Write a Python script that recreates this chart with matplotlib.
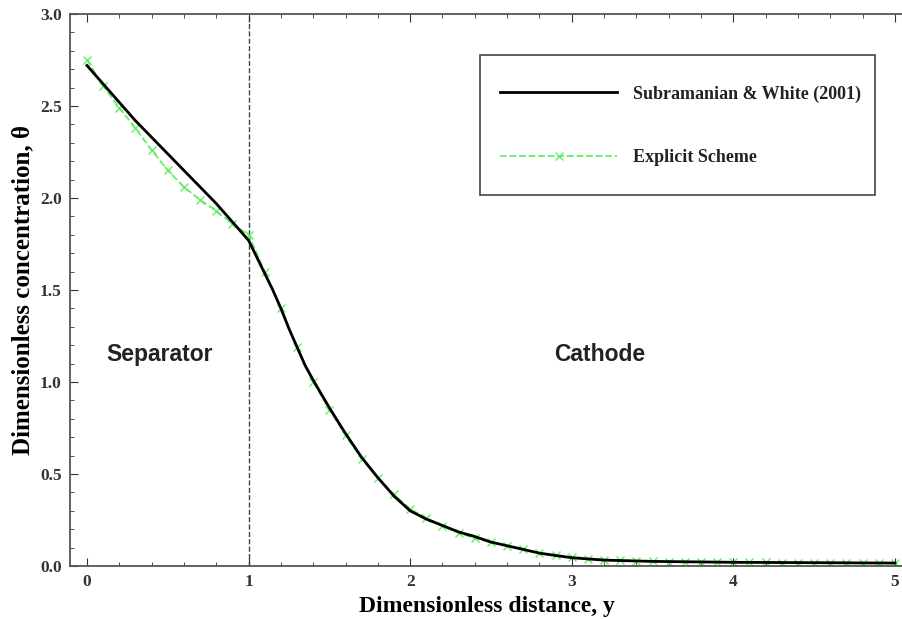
import numpy as np
import matplotlib.pyplot as plt
from matplotlib.ticker import MultipleLocator
from matplotlib.patches import Rectangle

# Subramanian & White (2001) solution
x_ref = [0.0, 0.1, 0.2, 0.3, 0.4, 0.5, 0.6, 0.7, 0.8, 0.9, 1.0,
         1.05, 1.1, 1.15, 1.2, 1.25, 1.3, 1.35, 1.4, 1.5, 1.6, 1.7, 1.8, 1.9, 2.0,
         2.1, 2.2, 2.3, 2.4, 2.5, 2.6, 2.7, 2.8, 2.9, 3.0, 3.2, 3.5, 4.0, 4.5, 5.0]
theta_ref = [2.72, 2.62, 2.52, 2.42, 2.33, 2.24, 2.15, 2.06, 1.97, 1.87, 1.77,
             1.68, 1.59, 1.50, 1.40, 1.29, 1.19, 1.09, 1.01, 0.86, 0.72, 0.59, 0.48, 0.38, 0.30,
             0.255, 0.22, 0.185, 0.16, 0.13, 0.11, 0.09, 0.07, 0.057, 0.045, 0.032, 0.025, 0.02, 0.018, 0.016]

# Explicit scheme
x_exp = [0.0, 0.1, 0.2, 0.3, 0.4, 0.5, 0.6, 0.7, 0.8, 0.9, 1.0,
         1.1, 1.2, 1.3, 1.4, 1.5, 1.6, 1.7, 1.8, 1.9, 2.0,
         2.1, 2.2, 2.3, 2.4, 2.5, 2.6, 2.7, 2.8, 2.9, 3.0,
         3.1, 3.2, 3.3, 3.4, 3.5, 3.6, 3.7, 3.8, 3.9, 4.0,
         4.1, 4.2, 4.3, 4.4, 4.5, 4.6, 4.7, 4.8, 4.9, 5.0]
theta_exp = [2.75, 2.61, 2.49, 2.38, 2.26, 2.15, 2.06, 1.99, 1.93, 1.86, 1.80,
             1.60, 1.40, 1.19, 1.00, 0.85, 0.71, 0.58, 0.48, 0.39, 0.31,
             0.26, 0.22, 0.18, 0.15, 0.13, 0.11, 0.09, 0.07, 0.06, 0.05,
             0.04, 0.035, 0.03, 0.028, 0.025, 0.024, 0.023, 0.022, 0.021, 0.02,
             0.02, 0.02, 0.019, 0.019, 0.018, 0.018, 0.017, 0.017, 0.016, 0.016]

plt.rcParams['font.family'] = ['Liberation Serif', 'DejaVu Serif']

fig = plt.figure(figsize=(9.03, 6.19), dpi=100)
ax = fig.add_axes([70/903, 1 - 566/619, 1 - 70/903, (566 - 14)/619])

ax.plot(x_exp, theta_exp, color='#66ee66', linestyle='--', linewidth=1.3,
        marker='x', markersize=6, markeredgewidth=1.0, label='Explicit Scheme', zorder=2)
ax.plot(x_ref, theta_ref, color='black', linewidth=2.0,
        label='Subramanian & White (2001)', zorder=3)
ax.axvline(1.0, color='#444444', linestyle='--', linewidth=1.0, zorder=1)

ax.text(0.45, 1.15, 'Separator', fontsize=16.5, fontweight='bold',
        family='Liberation Sans', ha='center', va='center', color='#222222')
ax.text(3.17, 1.15, 'Cathode', fontsize=16.5, fontweight='bold',
        family='Liberation Sans', ha='center', va='center', color='#222222')

ax.set_xlim(-0.105, 5.05)
ax.set_ylim(0, 3.0)
ax.xaxis.set_major_locator(MultipleLocator(1))
ax.xaxis.set_minor_locator(MultipleLocator(0.2))
ax.yaxis.set_major_locator(MultipleLocator(0.5))
ax.yaxis.set_minor_locator(MultipleLocator(0.1))
ax.xaxis.set_major_formatter(plt.FuncFormatter(lambda v, p: '%d' % v))
ax.yaxis.set_major_formatter(plt.FuncFormatter(lambda v, p: '%.1f' % v))
ax.tick_params(which='both', direction='in', top=True, right=False,
               labelsize=12.5, colors='#333333', labelcolor='#333333')
ax.tick_params(which='major', length=6, pad=6)
ax.tick_params(which='minor', length=3)
for lab in ax.get_xticklabels() + ax.get_yticklabels():
    lab.set_fontweight('bold')
for s in ['left', 'bottom', 'top']:
    ax.spines[s].set_color('#555555')
    ax.spines[s].set_linewidth(1.3)
ax.spines['right'].set_visible(False)

ax.set_xlabel('Dimensionless distance, y', fontsize=17, fontweight='bold', labelpad=4)
ax.set_ylabel('Dimensionless concentration, θ', fontsize=18, fontweight='bold', labelpad=4)

# legend frame drawn separately so the padding can differ per side
ax.add_patch(Rectangle((0.492, 0.672), 0.474, 0.254, transform=ax.transAxes,
                       facecolor='white', edgecolor='#444444', linewidth=1.2, zorder=4))
h, l = ax.get_legend_handles_labels()
leg = ax.legend(h[::-1], l[::-1], loc='upper left', bbox_to_anchor=(0.516, 0.871),
                fontsize=13, frameon=False, handlelength=6.5, handletextpad=0.9,
                labelspacing=2.6, borderpad=0, borderaxespad=0)
leg.set_zorder(5)
for t in leg.get_texts():
    t.set_fontweight('bold')
    t.set_color('#222222')

fig.savefig('out.png', dpi=100)
